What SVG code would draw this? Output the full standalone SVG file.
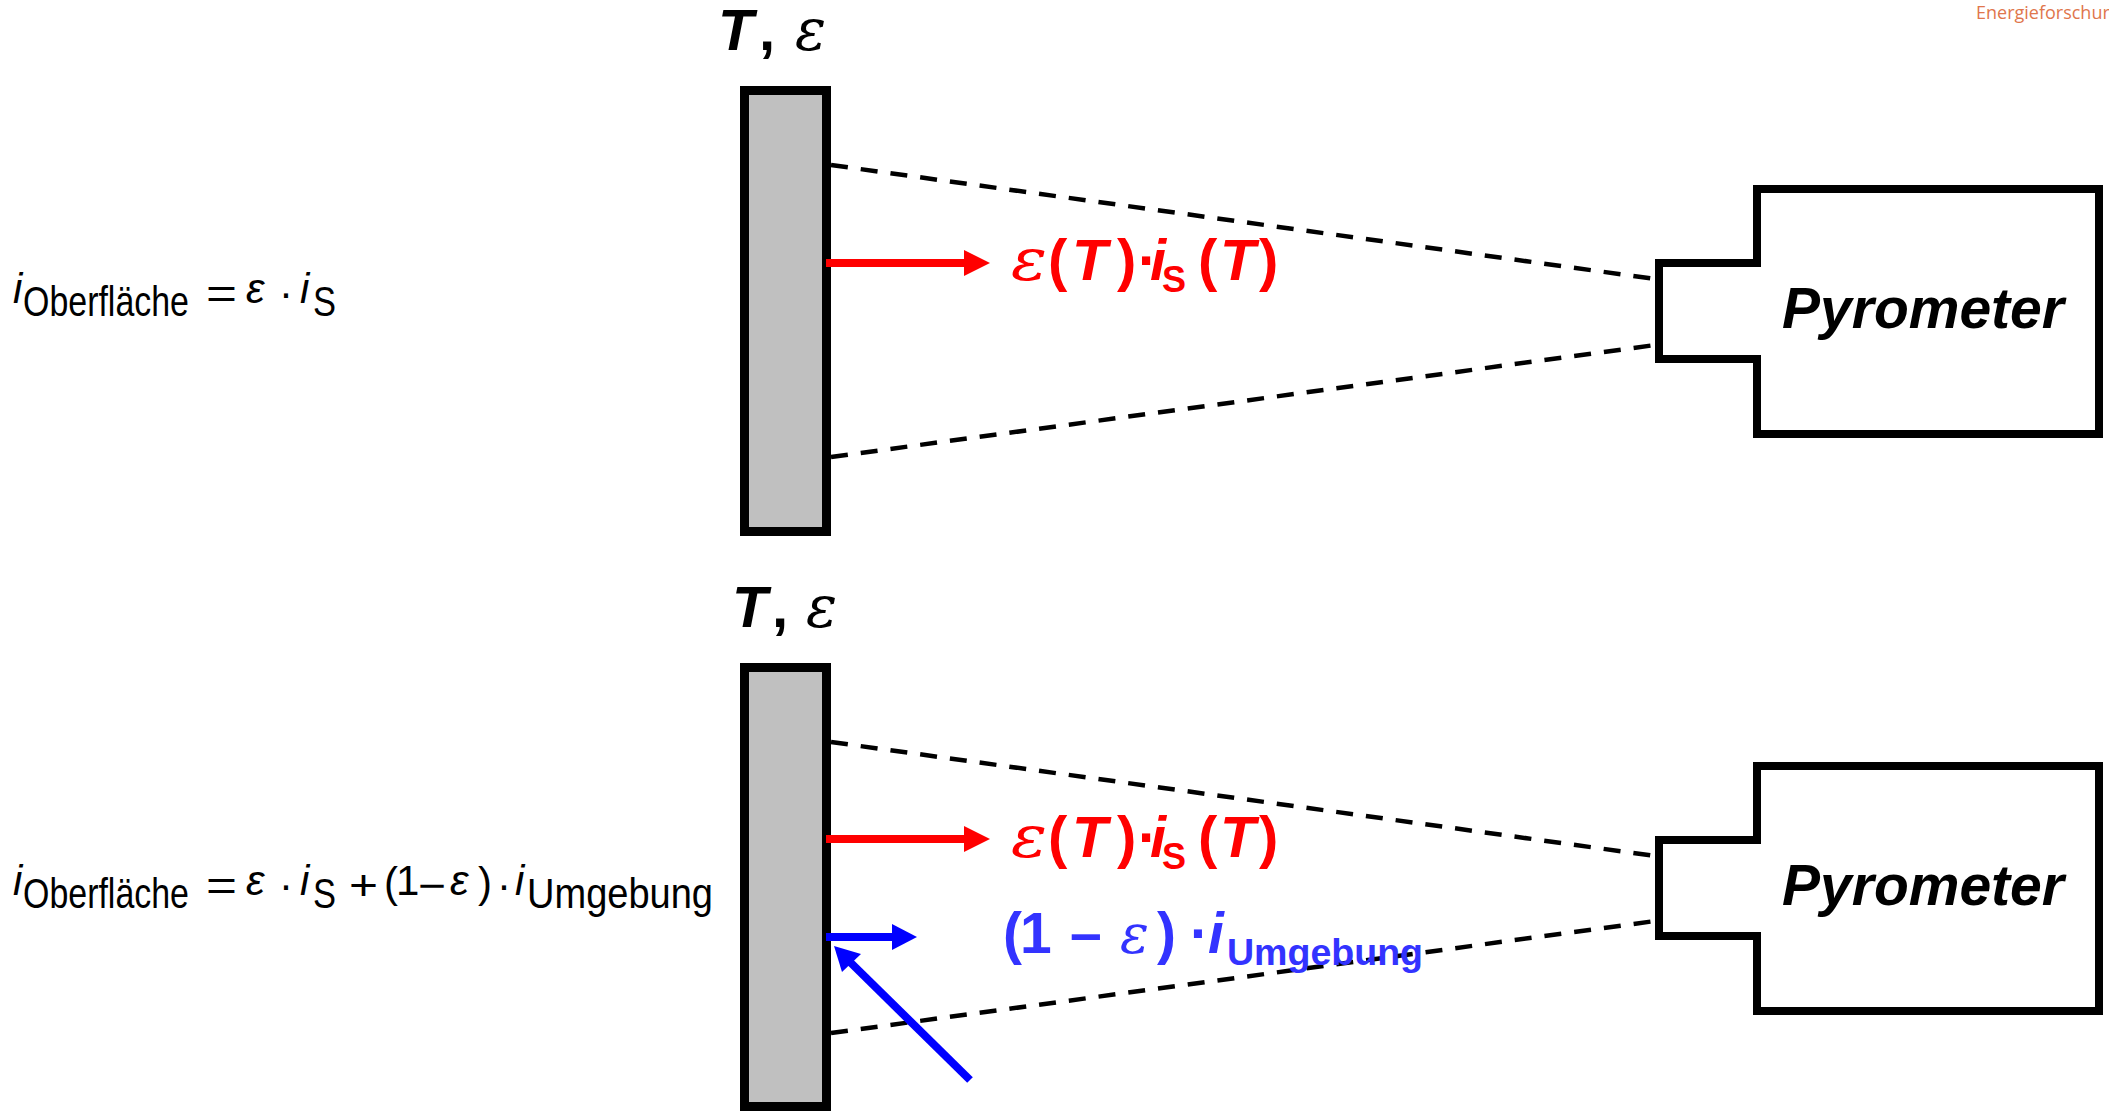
<svg xmlns="http://www.w3.org/2000/svg" width="2109" height="1112" viewBox="0 0 2109 1112">
<style>
.bg{fill:#fff}
.plate{fill:#c0c0c0;stroke:#000;stroke-width:9}
.pyro{fill:#fff;stroke:#000;stroke-width:8}
.dash{fill:none;stroke:#000;stroke-width:4.5;stroke-dasharray:17 13}
.red{fill:#ff0000}
.blue{fill:#0000ff}
.rl{stroke:#ff0000;stroke-width:8;fill:none}
.bl{stroke:#0000ff;stroke-width:8;fill:none}
.bi{font-family:"Liberation Sans",Arial,sans-serif;font-weight:bold;font-style:italic}
.b{font-family:"Liberation Sans",Arial,sans-serif;font-weight:bold;font-style:normal}
.eps{font-family:"DejaVu Serif","Liberation Serif",serif;font-style:italic;font-weight:normal}
.eq{font-family:"Liberation Sans",Arial,sans-serif;font-size:42px;fill:#000}
.lbl{font-size:58px;fill:#000}
.rt{fill:#ff0000;font-size:58px}
.bt{fill:#3333ff;font-size:57px}
.wm{font-family:"Open Sans","Liberation Sans",sans-serif;font-size:18px;fill:#e0764c}
</style>
<rect class="bg" x="0" y="0" width="2109" height="1112"/>

<text class="wm" x="1976" y="19">Energieforschur</text>

<g id="eq-top">
<text class="eq" x="13" y="303" font-style="italic">i</text>
<text class="eq" x="23" y="316" textLength="166" lengthAdjust="spacingAndGlyphs">Oberfläche</text>
<text class="eq" x="206" y="308" textLength="31" lengthAdjust="spacingAndGlyphs">=</text>
<text class="eq eps" x="246" y="303" font-size="41">ε</text>
<text class="eq" x="279" y="307">·</text>
<text class="eq" x="300" y="303" font-style="italic">i</text>
<text class="eq" x="313" y="316" textLength="23" lengthAdjust="spacingAndGlyphs">S</text>
</g>

<g id="eq-bottom">
<text class="eq" x="13" y="895" font-style="italic">i</text>
<text class="eq" x="23" y="908" textLength="166" lengthAdjust="spacingAndGlyphs">Oberfläche</text>
<text class="eq" x="206" y="900" textLength="31" lengthAdjust="spacingAndGlyphs">=</text>
<text class="eq eps" x="246" y="895" font-size="41">ε</text>
<text class="eq" x="279" y="899">·</text>
<text class="eq" x="300" y="895" font-style="italic">i</text>
<text class="eq" x="313" y="908" textLength="23" lengthAdjust="spacingAndGlyphs">S</text>
<text class="eq" x="349" y="900" textLength="29" lengthAdjust="spacingAndGlyphs">+</text>
<text class="eq" x="384" y="897">(</text>
<text class="eq" x="396" y="895">1</text>
<text class="eq" x="418" y="900" textLength="28" lengthAdjust="spacingAndGlyphs">−</text>
<text class="eq eps" x="450" y="895" font-size="41">ε</text>
<text class="eq" x="478" y="897">)</text>
<text class="eq" x="497" y="899">·</text>
<text class="eq" x="515" y="895" font-style="italic">i</text>
<text class="eq" x="527" y="908" textLength="186" lengthAdjust="spacingAndGlyphs">Umgebung</text>
</g>

<g id="plate-top">
<rect class="plate" x="744.5" y="90.5" width="82" height="441"/>
<text class="lbl bi" x="718" y="50">T</text>
<text class="lbl b" x="759" y="50">,</text>
<text class="lbl eps" x="795" y="50" font-size="52">ε</text>
</g>

<g id="plate-bottom">
<rect class="plate" x="744.5" y="667.5" width="82" height="439"/>
<text class="lbl bi" x="732" y="627">T</text>
<text class="lbl b" x="772" y="627">,</text>
<text class="lbl eps" x="806" y="627" font-size="52">ε</text>
</g>

<g id="pyrometer-top">
<path class="pyro" d="M1757,189 H2099 V434 H1757 V359 H1659 V263 H1757 Z"/>
<text class="bi" x="1782" y="328" font-size="57">Pyrometer</text>
</g>

<g id="pyrometer-bottom">
<path class="pyro" d="M1757,766 H2099 V1011 H1757 V936 H1659 V840 H1757 Z"/>
<text class="bi" x="1782" y="905" font-size="57">Pyrometer</text>
</g>

<g id="connectors">
<line class="dash" x1="831" y1="165" x2="1655" y2="279"/>
<line class="dash" x1="831" y1="457" x2="1655" y2="345"/>
<line class="dash" x1="831" y1="742" x2="1655" y2="856"/>
<line class="dash" x1="831" y1="1033" x2="1655" y2="921"/>

<line class="rl" x1="826" y1="263" x2="966" y2="263"/>
<polygon class="red" points="964,250 990,263 964,276"/>
<line class="rl" x1="826" y1="839" x2="966" y2="839"/>
<polygon class="red" points="964,826 990,839 964,852"/>

<line class="bl" x1="826" y1="937" x2="894" y2="937"/>
<polygon class="blue" points="892,924 917,937 892,950"/>

<line class="bl" x1="970" y1="1080" x2="850" y2="962"/>
<polygon class="blue" points="834,946 861,954 842,972"/>
</g>

<g id="label-red-top">
<text class="rt b" y="280">
<tspan class="eps" font-weight="bold" x="1011" font-size="58" textLength="36" lengthAdjust="spacingAndGlyphs">ε</tspan><tspan x="1048">(</tspan><tspan font-style="italic" x="1072">T</tspan><tspan x="1117">)</tspan><tspan x="1138">·</tspan><tspan font-style="italic" x="1150">i</tspan><tspan x="1162" y="292" font-size="36">S</tspan><tspan x="1198" y="280">(</tspan><tspan font-style="italic" x="1220">T</tspan><tspan x="1259">)</tspan>
</text>
</g>

<g id="label-red-bottom">
<text class="rt b" y="857">
<tspan class="eps" font-weight="bold" x="1011" font-size="58" textLength="36" lengthAdjust="spacingAndGlyphs">ε</tspan><tspan x="1048">(</tspan><tspan font-style="italic" x="1072">T</tspan><tspan x="1117">)</tspan><tspan x="1138">·</tspan><tspan font-style="italic" x="1150">i</tspan><tspan x="1162" y="869" font-size="36">S</tspan><tspan x="1198" y="857">(</tspan><tspan font-style="italic" x="1220">T</tspan><tspan x="1259">)</tspan>
</text>
</g>

<g id="label-blue">
<text class="bt b" y="953">
<tspan x="1003">(</tspan><tspan x="1020">1</tspan><tspan x="1070">–</tspan><tspan class="eps" x="1120" font-size="54">ε</tspan><tspan x="1157">)</tspan><tspan x="1190">·</tspan><tspan font-style="italic" x="1208">i</tspan><tspan x="1227" y="965" font-size="37" textLength="196" lengthAdjust="spacingAndGlyphs">Umgebung</tspan>
</text>
</g>
</svg>
